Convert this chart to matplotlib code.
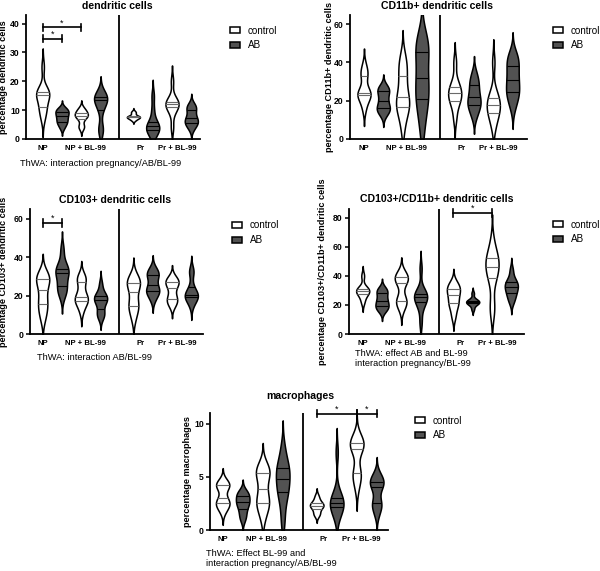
import numpy as np
import matplotlib
matplotlib.use("Agg")
import matplotlib.pyplot as plt
from matplotlib.patches import Patch

plt.rcParams['font.family'] = ['Liberation Sans', 'DejaVu Sans']

W, H = 600, 571

groups = ["NP", "NP + BL-99", "Pr", "Pr + BL-99"]
legend_labels = ["control", "AB"]
# order: NP ctrl, NP AB, NP+BL ctrl, NP+BL AB, Pr ctrl, Pr AB, Pr+BL ctrl, Pr+BL AB
dc = [
    [7, 10, 10.5, 13, 15, 15.5, 16, 16.5, 17, 25],
    [4, 5.5, 6, 7, 8, 8.5, 9.5, 10, 10.5],
    [4, 4.5, 7, 8, 8, 8.5, 9, 10, 10.5],
    [3, 3.5, 10, 12, 13.5, 14, 14.5, 15, 15.5],
    [6.5, 7, 7.5, 7.5, 7.5, 8, 8, 9, 9.5],
    [1.5, 2.5, 3, 4, 4.5, 5, 6, 10, 15],
    [4, 9, 11, 11.5, 12, 12.5, 13, 14, 20],
    [3.5, 5, 5.5, 6, 7, 7.5, 9, 10.5, 11, 12],
]
cd11b = [
    [16, 21, 23, 23.5, 24, 25, 33, 34, 38],
    [13, 15, 16, 17, 20, 22, 25, 26, 27],
    [6, 14, 16, 17, 20, 22, 25, 32, 34, 40, 42],
    [5, 15, 20, 22, 28, 32, 36, 44, 47, 50, 53],
    [11, 18, 20, 22, 24, 25, 27, 30, 40],
    [12, 16, 18, 19, 22, 24, 28, 30, 34],
    [6, 11, 13, 15, 17, 18.5, 20, 22, 25, 40],
    [17, 22, 24, 26, 30, 32, 36, 39, 42, 44],
]
cd103 = [
    [8, 12, 15, 17, 21, 25, 28, 29, 30, 31],
    [20, 23, 24, 27, 31, 32, 33, 34, 37, 44],
    [12, 16, 17, 18, 19, 20, 24, 28, 29, 30],
    [9, 10, 12, 16, 17, 18, 19, 20, 21, 26],
    [8, 13, 14, 16, 20, 24, 26, 27, 28, 30],
    [18, 21, 22, 23, 24, 27, 30, 31, 32, 34],
    [15, 17, 18, 20, 24, 26, 27, 28, 29],
    [15, 18, 19, 19.5, 20, 21, 22, 25, 32, 33],
]
cd103_11b = [
    [22, 26, 28, 29, 30, 31, 32, 40],
    [16, 18, 19, 21, 23, 25, 28, 30, 31],
    [18, 22, 23, 24, 35, 37, 39, 39.5, 41],
    [8, 18, 21, 24, 25, 26, 27, 28, 30, 45],
    [12, 18, 21, 23, 27, 29, 31, 33, 35],
    [17, 20, 21, 21.5, 22, 22.5, 23, 24, 28],
    [15, 21, 38, 39.5, 45, 47, 50, 53, 54, 63],
    [22, 25, 28, 29, 32, 33, 34, 36, 38, 44],
]
macro = [
    [1.8, 2.3, 2.5, 2.6, 3, 4, 4.2, 4.3, 4.5],
    [1, 1.5, 2, 2.4, 2.6, 2.8, 3.2, 3.4, 3.6],
    [1.2, 2.3, 2.5, 2.6, 3.5, 4.2, 5.3, 5.4, 5.6, 6],
    [0.8, 2.5, 3.5, 3.8, 4.5, 5, 5.5, 6, 6.3, 7.7],
    [1.4, 1.6, 2, 2.2, 2.3, 2.4, 2.5, 2.8, 3.2],
    [1.2, 1.8, 2.2, 2.4, 2.5, 2.7, 3, 3.5, 7.3],
    [4, 5, 5.3, 5.5, 7.5, 7.8, 8, 8.2, 8.4, 8.6],
    [1.5, 2.2, 2.5, 2.6, 3.8, 4.2, 4.4, 4.6, 4.8, 5.2],
]

positions = [1, 2, 3, 4, 5.7, 6.7, 7.7, 8.7]
tick_pos = [1.0, 3.2, 6.05, 7.95]

CTRL_FACE, AB_FACE = "white", "#525252"

panels = [
    dict(data=dc, title="dendritic cells", ylabel="percentage dendritic cells",
         rect=(26, 200, 15, 139), first=42.7, sp=19.3, ylim=43, yticks=[0, 10, 20, 30, 40],
         title_xy=(117, 6), ylab_x=8, div=4.97,
         caption=["ThWA: interaction pregnancy/AB/BL-99"], cap_xy=(20, 163),
         legend_xy=(230, 32),
         brackets=[(1, 3, 38.7), (1, 2, 34.8)]),
    dict(data=cd11b, title="CD11b+ dendritic cells", ylabel="percentage CD11b+ dendritic cells",
         rect=(350, 527, 15, 139), first=364, sp=19.3, ylim=64.7, yticks=[0, 20, 40, 60],
         title_xy=(437, 6), ylab_x=334, div=4.94,
         caption=[], cap_xy=None, legend_xy=(553, 32), brackets=[]),
    dict(data=cd103, title="CD103+ dendritic cells", ylabel="percentage CD103+ dendritic cells",
         rect=(30, 203, 209, 334), first=42.7, sp=19.3, ylim=65, yticks=[0, 20, 40, 60],
         title_xy=(115, 200), ylab_x=8, div=4.97,
         caption=["ThWA: interaction AB/BL-99"], cap_xy=(37, 357),
         legend_xy=(232, 227), brackets=[(1, 2, 57.7)]),
    dict(data=cd103_11b, title="CD103+/CD11b+ dendritic cells",
         ylabel="percentage CD103+/CD11b+ dendritic cells",
         rect=(349, 524, 209, 334), first=362.7, sp=19.3, ylim=86, yticks=[0, 20, 40, 60, 80],
         title_xy=(437, 199), ylab_x=327, div=4.97,
         caption=["ThWA: effect AB and BL-99", "interaction pregnancy/BL-99"], cap_xy=(355, 354),
         legend_xy=(553, 226), brackets=[(5.7, 7.7, 83.2)]),
    dict(data=macro, title="macrophages", ylabel="percentage macrophages",
         rect=(210, 388, 413, 530), first=222.7, sp=20.0, ylim=11, yticks=[0, 5, 10],
         title_xy=(300, 396), ylab_x=192, div=5.0,
         caption=["ThWA: Effect BL-99 and", "interaction pregnancy/AB/BL-99"], cap_xy=(206, 554),
         legend_xy=(415, 422), brackets=[(5.7, 7.7, 10.94), (7.7, 8.7, 10.94)]),
]

fig = plt.figure(figsize=(W / 100, H / 100), dpi=100)


def fx(x):
    return x / W


def fy(y):
    return 1 - y / H


def draw_violin(ax, d, pos, face, linecol, width=0.68, bw=0.5):
    d = np.asarray(d, float)
    h = bw * d.std(ddof=1)
    grid = np.linspace(d.min() - 2.6 * h, d.max() + 2.6 * h, 400)
    dens = np.exp(-0.5 * ((grid[:, None] - d[None, :]) / h) ** 2).sum(1)
    dens = dens / dens.max() * width / 2
    ax.fill_betweenx(grid, pos - dens, pos + dens, facecolor=face,
                     edgecolor="black", linewidth=1.1, zorder=2)
    for q in np.percentile(d, [25, 50, 75]):
        w = np.interp(q, grid, dens)
        ax.plot([pos - w, pos + w], [q, q], color=linecol, lw=0.8, zorder=3,
                solid_capstyle="butt")


for p in panels:
    l, r, t, b = p["rect"]
    ax = fig.add_axes([fx(l), fy(b), (r - l) / W, (b - t) / H])
    x0 = 1 - (p["first"] - l) / p["sp"]
    x1 = 1 + (r - p["first"]) / p["sp"]
    ax.set_xlim(x0, x1)
    ax.set_ylim(0, p["ylim"])
    for i, (d, pos) in enumerate(zip(p["data"], positions)):
        if i % 2 == 0:
            draw_violin(ax, d, pos, CTRL_FACE, "#6a6a6a")
        else:
            draw_violin(ax, d, pos, AB_FACE, "black")
    ax.axvline(p["div"], color="black", lw=1.3, zorder=4)
    for s in ["top", "right"]:
        ax.spines[s].set_visible(False)
    for s in ["left", "bottom"]:
        ax.spines[s].set_linewidth(1.3)
    ax.set_yticks(p["yticks"])
    ax.set_yticklabels([str(v) for v in p["yticks"]], fontsize=6.2, fontweight="bold")
    ax.tick_params(axis="y", length=3, width=1.1, pad=1.5)
    ax.set_xticks(tick_pos)
    ax.set_xticklabels(groups, fontsize=5.6, fontweight="bold")
    ax.tick_params(axis="x", length=0, pad=4.2)
    ax.set_ylabel(p["ylabel"], fontsize=6.6, fontweight="bold")
    ax.yaxis.set_label_coords((p["ylab_x"] - l) / (r - l), 0.5)
    fig.text(fx(p["title_xy"][0]), fy(p["title_xy"][1]), p["title"], fontsize=7.6,
             fontweight="bold", ha="center", va="center")
    if p["caption"]:
        cx, cy = p["cap_xy"]
        for k, line in enumerate(p["caption"]):
            fig.text(fx(cx), fy(cy + 9.5 * k), line, fontsize=6.7, ha="left", va="center")
    # brackets
    yr = p["ylim"]
    px_per_unit = (b - t) / yr
    th = 3.7 / px_per_unit
    for (a1, a2, yv) in p["brackets"]:
        ax.plot([a1, a2], [yv, yv], color="black", lw=1.2, clip_on=False, zorder=5)
        for a in (a1, a2):
            ax.plot([a, a], [yv - th, yv + th], color="black", lw=1.2, clip_on=False, zorder=5)
        ax.text((a1 + a2) / 2, yv + 4.5 / px_per_unit, "*", fontsize=6.5, ha="center",
                va="center", clip_on=False)
    lx, ly = p["legend_xy"]
    handles = [Patch(facecolor=CTRL_FACE, edgecolor="black", linewidth=1.1),
               Patch(facecolor=AB_FACE, edgecolor="black", linewidth=1.1)]
    ax.legend(handles, legend_labels, loc="upper left",
              bbox_to_anchor=(fx(lx), fy(ly - 6.5)), bbox_transform=fig.transFigure,
              frameon=False, fontsize=7.1, borderpad=0, borderaxespad=0,
              handlelength=1.05, handleheight=0.55, handletextpad=0.75, labelspacing=0.5)

fig.savefig("out.png", dpi=100)
